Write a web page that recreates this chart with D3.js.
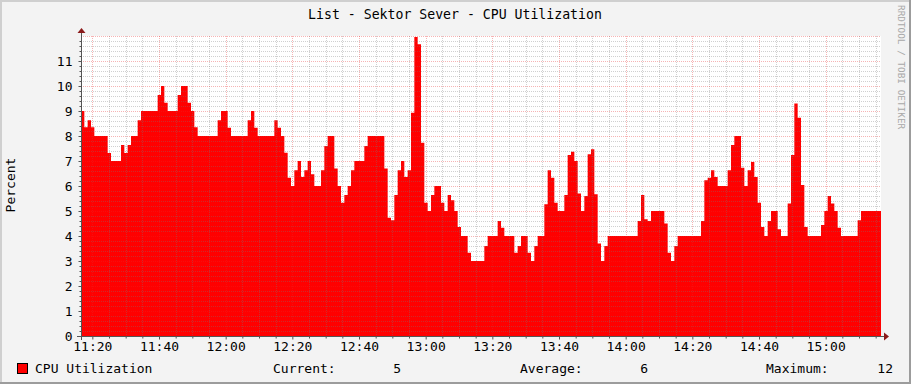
<!DOCTYPE html>
<html><head><meta charset="utf-8">
<script src="https://cdn.jsdelivr.net/npm/d3@7"></script>
<style>
html,body{margin:0;padding:0;background:#f3f3f3;}
svg{display:block;}
text{font-family:"DejaVu Sans Mono",monospace;}
</style></head>
<body>
<svg id="chart" width="911" height="384"></svg>
<script>
// ---- data ----
const chartTitle = "List - Sektor Sever - CPU Utilization";
const yLabel = "Percent";
const seriesName = "CPU Utilization";
const startTime = "2000-01-01T11:16:36";   // first sample (1-minute steps)
const stepMinutes = 1;
const cpuValues = [
  9, 8.35, 8.63, 8.35, 8, 8, 8, 8, 7.32, 7,
  7, 7, 7.64, 7.32, 7.64, 8, 8, 8.63, 9, 9,
  9, 9, 9, 9.64, 10, 9.33, 9, 9, 9, 9.64,
  10, 10, 9.33, 9, 8.35, 8, 8, 8, 8, 8,
  8, 8.63, 9, 9, 8.33, 8, 8, 8, 8, 8,
  8.63, 9, 8.33, 8, 8, 8, 8, 8, 8.63, 8.33,
  8, 7.33, 6.33, 6, 6.63, 7, 6.36, 6.63, 7, 6.47,
  6, 6, 6.63, 7.6, 8, 8, 6.7, 6, 5.33, 5.64,
  6, 6.63, 7, 7, 7, 7.6, 8, 8, 8, 8,
  8, 6.7, 4.73, 4.63, 5.64, 6.63, 7, 6.36, 6.63, 8.93,
  11.96, 11.67, 7.73, 5.33, 5, 5.64, 6, 6, 5.33, 5,
  5.64, 5.43, 5, 4.36, 4, 4, 3.33, 3, 3, 3,
  3, 3.6, 4, 4, 4, 4.6, 4.33, 4, 4, 4,
  3.33, 3.6, 4, 4, 3.33, 3, 3.6, 4, 4, 5.27,
  6.63, 6.33, 5.33, 5, 5, 5.64, 7.24, 7.37, 7, 5.7,
  5, 5.6, 7.27, 7.47, 5.67, 3.7, 3, 3.6, 4, 4,
  4, 4, 4, 4, 4, 4, 4, 4.6, 5.64, 4.67,
  4.6, 5, 5, 5, 5, 4.5, 3.33, 3, 3.6, 4,
  4, 4, 4, 4, 4, 4, 4.6, 6.23, 6.33, 6.63,
  6.36, 6, 6, 6, 6.63, 7.64, 8, 8, 6.73, 6,
  6.63, 6.96, 6.36, 5.33, 4.36, 4, 4.6, 5, 5, 4.27,
  4, 4, 5.3, 7.24, 9.3, 8.73, 6.04, 4.36, 4, 4,
  4, 4, 4.44, 5, 5.6, 5.3, 5, 4.33, 4, 4,
  4, 4, 4, 4.63, 5, 5, 5, 5, 5, 5
];
const yTickValues = [0,1,2,3,4,5,6,7,8,9,10,11];
const legendLabels = ["Current:", "Average:", "Maximum:"];
const watermark = "RRDTOOL / TOBI OETIKER";

// ---- layout ----
const W = 911, H = 384;
const plot = {left: 81, right: 881, top: 36, bottom: 336};
const svg = d3.select("#chart");

// frame / background
svg.append("rect").attr("width", W).attr("height", H).attr("fill", "#f3f3f3");
svg.append("rect").attr("x",0).attr("y",0).attr("width",W).attr("height",2).attr("fill","#cfcfcf");
svg.append("rect").attr("x",0).attr("y",0).attr("width",2).attr("height",H).attr("fill","#cfcfcf");
svg.append("rect").attr("x",0).attr("y",H-2).attr("width",W).attr("height",2).attr("fill","#9c9c9c");
svg.append("rect").attr("x",W-2).attr("y",0).attr("width",2).attr("height",H).attr("fill","#9c9c9c");

const t0 = new Date(startTime);
const data = cpuValues.map((v,i) => ({t: d3.timeMinute.offset(t0, i*stepMinutes), v}));
const tEnd = d3.timeMinute.offset(t0, cpuValues.length*stepMinutes);
const x = d3.scaleTime().domain([t0, tEnd]).range([plot.left, plot.right]);
const y = d3.scaleLinear().domain([0, 12]).range([plot.bottom, plot.top]);

// canvas
svg.append("rect").attr("x", plot.left).attr("y", plot.top)
  .attr("width", plot.right-plot.left).attr("height", plot.bottom-plot.top).attr("fill", "#ffffff");

// area
const areaData = data.concat([{t: tEnd, v: cpuValues[cpuValues.length-1]}]);
const area = d3.area().curve(d3.curveStepAfter)
  .x(d => x(d.t)).y0(y(0)).y1(d => y(d.v));
svg.append("path").datum(areaData).attr("d", area).attr("fill", "#ff0000");

// grid
const g = svg.append("g").attr("shape-rendering","crispEdges");
const minorY = d3.range(0, 12.001, 0.2).filter(v => Math.abs(v - Math.round(v)) > 0.01);
const minorX = d3.timeMinute.every(5).range(t0, tEnd).filter(d => d.getMinutes() % 20 !== 0);
const majorX = d3.timeMinute.every(20).range(t0, tEnd);
g.selectAll(".hmin").data(minorY).join("line")
  .attr("x1", plot.left).attr("x2", plot.right)
  .attr("y1", d => Math.round(y(d))+0.5).attr("y2", d => Math.round(y(d))+0.5)
  .attr("stroke", "rgba(120,120,120,0.35)").attr("stroke-dasharray","1,1");
g.selectAll(".vmin").data(minorX).join("line")
  .attr("y1", plot.top).attr("y2", plot.bottom)
  .attr("x1", d => Math.round(x(d))+0.5).attr("x2", d => Math.round(x(d))+0.5)
  .attr("stroke", "rgba(120,120,120,0.35)").attr("stroke-dasharray","1,1");
g.selectAll(".hmaj").data(yTickValues.filter(v=>v>0).concat([12])).join("line")
  .attr("x1", plot.left).attr("x2", plot.right)
  .attr("y1", d => Math.round(y(d))+0.5).attr("y2", d => Math.round(y(d))+0.5)
  .attr("stroke", "rgba(230,40,40,0.35)").attr("stroke-dasharray","1,1");
g.selectAll(".vmaj").data(majorX).join("line")
  .attr("y1", plot.top).attr("y2", plot.bottom)
  .attr("x1", d => Math.round(x(d))+0.5).attr("x2", d => Math.round(x(d))+0.5)
  .attr("stroke", "rgba(230,40,40,0.35)").attr("stroke-dasharray","1,1");

// axes (d3 axes for ticks & labels)
const axisColor = "#555555";
const yAxis = d3.axisLeft(y).tickValues(yTickValues).tickSize(3).tickPadding(6).tickFormat(d3.format("d"));
const yg = svg.append("g").attr("transform", `translate(${plot.left+0.5},0)`).call(yAxis);
yg.select(".domain").remove();
yg.selectAll(".tick line").attr("stroke", axisColor);
yg.selectAll(".tick text").attr("font-size", 13).attr("fill", "#000").attr("font-family","DejaVu Sans Mono");

const yMinorAxis = d3.axisLeft(y).tickValues(minorY).tickSize(2).tickFormat("");
const ymg = svg.append("g").attr("transform", `translate(${plot.left+0.5},0)`).call(yMinorAxis);
ymg.select(".domain").remove();
ymg.selectAll(".tick line").attr("stroke", axisColor);

const xAxis = d3.axisBottom(x).tickValues(majorX).tickSize(3).tickPadding(2).tickFormat(d3.timeFormat("%H:%M"));
const xg = svg.append("g").attr("transform", `translate(0,${plot.bottom+0.5})`).call(xAxis);
xg.select(".domain").remove();
xg.selectAll(".tick line").attr("stroke", axisColor);
xg.selectAll(".tick text").attr("font-size", 13).attr("fill", "#000").attr("font-family","DejaVu Sans Mono");

const xMinorAxis = d3.axisBottom(x).tickValues(minorX).tickSize(2).tickFormat("");
const xmg = svg.append("g").attr("transform", `translate(0,${plot.bottom+0.5})`).call(xMinorAxis);
xmg.select(".domain").remove();
xmg.selectAll(".tick line").attr("stroke", axisColor);

// axis lines + arrows
svg.append("line").attr("x1", plot.left-4).attr("x2", plot.right+3)
  .attr("y1", plot.bottom+0.5).attr("y2", plot.bottom+0.5).attr("stroke", axisColor);
svg.append("line").attr("x1", plot.left+0.5).attr("x2", plot.left+0.5)
  .attr("y1", plot.bottom+4).attr("y2", plot.top-4).attr("stroke", axisColor);
const arrowColor = "#8b1a1a";
svg.append("path")
  .attr("d", `M${plot.right+3},${plot.bottom-3.5} L${plot.right+8},${plot.bottom+0.5} L${plot.right+3},${plot.bottom+4.5} Z`)
  .attr("fill", arrowColor);
svg.append("path")
  .attr("d", `M${plot.left-3.5},${plot.top-3} L${plot.left+0.5},${plot.top-8} L${plot.left+4.5},${plot.top-3} Z`)
  .attr("fill", arrowColor);

// title
svg.append("text").attr("x", 455).attr("y", 19).attr("text-anchor","middle")
  .attr("font-size", 13.2).attr("fill","#000").text(chartTitle);

// y label
svg.append("text").attr("transform", "translate(15,185) rotate(-90)").attr("text-anchor","middle")
  .attr("font-size", 13).attr("fill","#000").text(yLabel);

// watermark
svg.append("text").attr("transform", "translate(898,5) rotate(90)").attr("text-anchor","start")
  .attr("font-size", 9.4).attr("fill","#a8a8a8").text(watermark);

// legend
const current = cpuValues[cpuValues.length-1];
const average = d3.mean(cpuValues);
const maximum = d3.max(cpuValues);
const fmt = d3.format(".0f");
svg.append("rect").attr("x", 17.5).attr("y", 363.5).attr("width", 10).attr("height", 10)
  .attr("fill", "#ff0000").attr("stroke", "#000");
const ly = 373;
svg.append("text").attr("x", 35).attr("y", ly).attr("font-size", 13).text(seriesName);
const legendVals = [current, average, maximum];
const labelX = [273, 520, 766];
const valueRight = [401, 648, 893];
legendLabels.forEach((lab, i) => {
  svg.append("text").attr("x", labelX[i]).attr("y", ly).attr("font-size", 13).text(lab);
  svg.append("text").attr("x", valueRight[i]).attr("y", ly).attr("text-anchor","end")
    .attr("font-size", 13).text(fmt(legendVals[i]));
});
</script>
</body></html>
